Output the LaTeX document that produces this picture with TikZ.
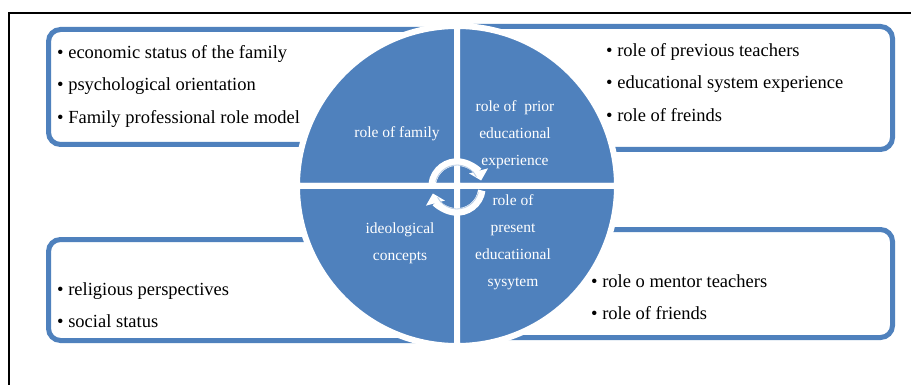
\documentclass[tikz,border=0pt]{standalone}
\usepackage{fontspec}
\setmainfont{Liberation Serif}
\usetikzlibrary{arrows.meta,calc}
\definecolor{segblue}{HTML}{4F81BD}
\definecolor{ringline}{HTML}{B9CDE5}
\begin{document}
\begin{tikzpicture}[x=1pt,y=1pt,
  listbox/.style={draw=segblue, line width=5pt, fill=white, rounded corners=12pt,
    inner sep=0pt, outer sep=0pt, anchor=north west},
  itemlist/.style={anchor=west, align=left, inner sep=0pt, text=black,
    font=\fontsize{18.5}{32.5}\selectfont},
  seglabel/.style={align=center, inner sep=0pt, text=white,
    font=\fontsize{15.5}{27}\selectfont},
  sector/.style={fill=segblue, draw=white, line width=6pt},
  cyclearrow/.style={draw=white, line width=7.5pt, -{Triangle[width=19pt,length=10pt]}},
  cycleline/.style={draw=ringline, line width=0.8pt}]
\useasboundingbox (0,0) rectangle (911,-385);
\fill[white] (0,0) rectangle (911,-385);
% page frame: top and left rules
\draw[line width=1.4pt] (9,-385) -- (9,-13) -- (911,-13);

% the four item boxes, partly hidden behind the disc
\node[listbox, minimum width=421.5pt, minimum height=115pt] (famBox) at (48.5,-29.5) {};
\node[listbox, minimum width=430.5pt, minimum height=123pt] (priorBox) at (462,-26.5) {};
\node[listbox, minimum width=421.5pt, minimum height=101pt] (ideoBox) at (48.5,-239.5) {};
\node[listbox, minimum width=447.5pt, minimum height=108pt] (presentBox) at (445,-229.5) {};

% bullet lists
\node[itemlist] (famList) at (57,-86)
  {\textbullet\ economic status of the family\\
   \textbullet\ psychological orientation\\
   \textbullet\ Family professional role model};
\node[itemlist] (priorList) at (606,-82.5)
  {\textbullet\ role of previous teachers\\
   \textbullet\ educational system experience\\
   \textbullet\ role of freinds};
\node[itemlist] (ideoList) at (57,-305)
  {\textbullet\ religious perspectives\\
   \textbullet\ social status};
\node[itemlist] (presentList) at (591,-297)
  {\textbullet\ role o mentor teachers\\
   \textbullet\ role of friends};

% the disc split into four quarters
\coordinate (hub) at (457,-186);
\filldraw[sector] (hub) -- ++(90:160) arc[start angle=90, end angle=180, radius=160] -- cycle;
\filldraw[sector] (hub) -- ++(0:160) arc[start angle=0, end angle=90, radius=160] -- cycle;
\filldraw[sector] (hub) -- ++(180:160) arc[start angle=180, end angle=270, radius=160] -- cycle;
\filldraw[sector] (hub) -- ++(270:160) arc[start angle=270, end angle=360, radius=160] -- cycle;

% quarter labels
\node[seglabel] (famLabel) at (397,-134) {role of family};
\node[seglabel] (priorLabel) at (515,-134.5) {role of\ \ prior\\educational\\experience};
\node[seglabel] (ideoLabel) at (400,-243.5) {ideological\\concepts};
\node[seglabel] (presentLabel) at (513,-242) {role of\\present\\educatiional\\sysytem};

% circular arrows at the centre
\coordinate (ring) at (457,-187);
\draw[cyclearrow] ($(ring)+(172:25)$) arc[start angle=172, end angle=15, radius=25];
\draw[cyclearrow] ($(ring)+(-8:25)$) arc[start angle=-8, end angle=-165, radius=25];
\draw[cycleline] ($(ring)+(166:22)$) arc[start angle=166, end angle=28, radius=22];
\draw[cycleline] ($(ring)+(-14:22)$) arc[start angle=-14, end angle=-152, radius=22];
\end{tikzpicture}
\end{document}
